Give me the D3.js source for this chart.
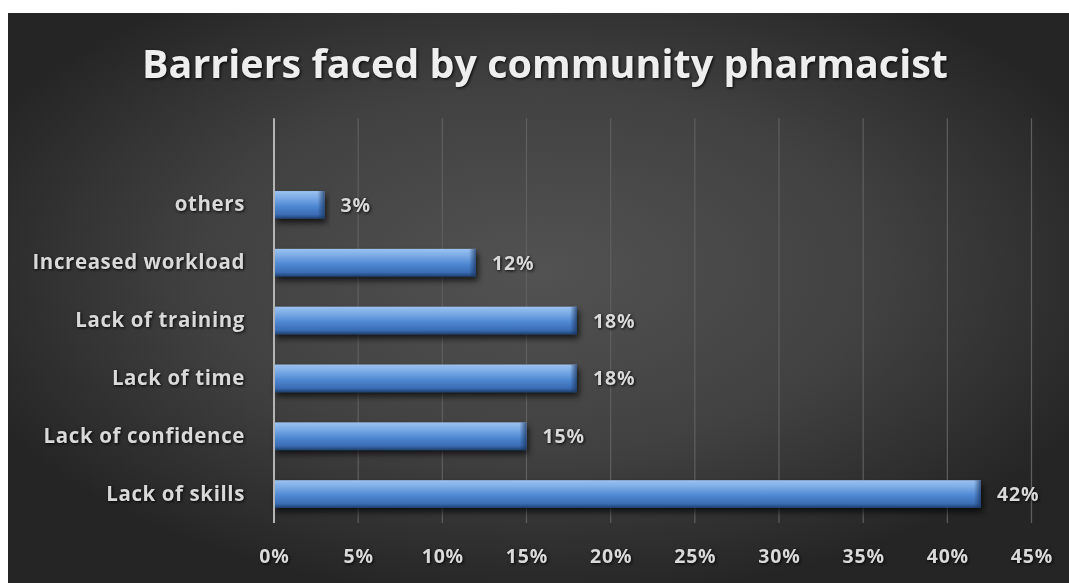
<!DOCTYPE html>
<html>
<head>
<meta charset="utf-8">
<script src="https://cdn.jsdelivr.net/npm/d3@7"></script>
<style>
  body { margin: 0; background: #fff; }
  svg text { font-family: "Open Sans", "DejaVu Sans", sans-serif; font-weight: bold; }
  .shadowed { filter: drop-shadow(1px 1px 1.5px rgba(0,0,0,0.9)); }
</style>
</head>
<body>
<div id="chart-area"></div>
<script>
const title = "Barriers faced by community pharmacist";
const categories = ["others", "Increased workload", "Lack of training", "Lack of time", "Lack of confidence", "Lack of skills"];
const values = [3, 12, 18, 18, 15, 42];
const ticks = [0, 5, 10, 15, 20, 25, 30, 35, 40, 45];

const chartSize = { width: 1069, height: 583 };
const frame = { left: 8, top: 13 };
const margin = { left: 274, right: 38, top: 176, bottom: 60 };
const plotW = chartSize.width - margin.left - margin.right;
const plotH = chartSize.height - margin.top - margin.bottom;

const svg = d3.select("#chart-area")
  .append("svg")
  .attr("width", chartSize.width)
  .attr("height", chartSize.height)
  .style("display", "block");

const defs = svg.append("defs");

const bg = defs.append("radialGradient")
  .attr("id", "bg")
  .attr("cx", "50%").attr("cy", "45%").attr("r", "58%");
bg.append("stop").attr("offset", "0%").attr("stop-color", "#525252");
bg.append("stop").attr("offset", "55%").attr("stop-color", "#414141");
bg.append("stop").attr("offset", "100%").attr("stop-color", "#252525");

const barGrad = defs.append("linearGradient")
  .attr("id", "barGrad")
  .attr("x1", 0).attr("y1", 0).attr("x2", 0).attr("y2", 1);
barGrad.append("stop").attr("offset", "0%").attr("stop-color", "#9cc2f0");
barGrad.append("stop").attr("offset", "25%").attr("stop-color", "#7aaae6");
barGrad.append("stop").attr("offset", "55%").attr("stop-color", "#4f88d2");
barGrad.append("stop").attr("offset", "85%").attr("stop-color", "#3a6cb4");
barGrad.append("stop").attr("offset", "100%").attr("stop-color", "#1f3f6e");

const endGrad = defs.append("linearGradient")
  .attr("id", "endGrad")
  .attr("x1", 0).attr("y1", 0).attr("x2", 1).attr("y2", 0);
endGrad.append("stop").attr("offset", "0%").attr("stop-color", "#1a3560").attr("stop-opacity", 0);
endGrad.append("stop").attr("offset", "100%").attr("stop-color", "#1a3560").attr("stop-opacity", 0.75);

const shadow = defs.append("filter").attr("id", "barShadow")
  .attr("x", "-5%").attr("y", "-30%").attr("width", "115%").attr("height", "180%");
shadow.append("feDropShadow")
  .attr("dx", 2).attr("dy", 4).attr("stdDeviation", 3)
  .attr("flood-color", "#000").attr("flood-opacity", 0.7);

svg.append("rect")
  .attr("x", frame.left).attr("y", frame.top)
  .attr("width", chartSize.width - frame.left)
  .attr("height", chartSize.height - frame.top)
  .attr("fill", "url(#bg)");

svg.append("text")
  .attr("class", "shadowed")
  .attr("x", 545)
  .attr("y", 78)
  .attr("text-anchor", "middle")
  .attr("textLength", 806)
  .attr("lengthAdjust", "spacingAndGlyphs")
  .attr("font-size", 39)
  .attr("font-weight", 600)
  .attr("fill", "#eeeeee")
  .text(title);

const g = svg.append("g")
  .attr("transform", `translate(${margin.left},${margin.top})`);

const x = d3.scaleLinear().domain([0, 45]).range([0, plotW + 0.5]);
const y = d3.scaleBand().domain(categories).range([0, plotH]).paddingInner(0.52).paddingOuter(0.26);
const gridTop = -y.step();

// gridlines
g.append("g")
  .selectAll("line")
  .data(ticks.filter(t => t > 0))
  .join("line")
  .attr("x1", d => x(d)).attr("x2", d => x(d))
  .attr("y1", gridTop).attr("y2", plotH)
  .attr("stroke", "#5f5f5f")
  .attr("stroke-width", 1.2);

// bars
const bars = g.append("g").selectAll("g").data(categories).join("g");
bars.append("rect")
  .attr("x", x(0))
  .attr("y", d => y(d))
  .attr("width", (d, i) => x(values[i]) - x(0))
  .attr("height", y.bandwidth())
  .attr("fill", "url(#barGrad)")
  .attr("filter", "url(#barShadow)");
bars.append("rect")
  .attr("x", (d, i) => x(values[i]) - 7)
  .attr("y", d => y(d))
  .attr("width", 7)
  .attr("height", y.bandwidth())
  .attr("fill", "url(#endGrad)");

// zero axis line
g.append("line")
  .attr("x1", x(0)).attr("x2", x(0))
  .attr("y1", gridTop).attr("y2", plotH)
  .attr("stroke", "#b4b4b4")
  .attr("stroke-width", 2);

// value labels
g.append("g")
  .selectAll("text")
  .data(categories)
  .join("text")
  .attr("class", "shadowed")
  .attr("x", (d, i) => x(values[i]) + 16)
  .attr("y", d => y(d) + y.bandwidth() / 2)
  .attr("dy", "0.36em")
  .attr("font-size", 19.5)
  .attr("letter-spacing", 0.8)
  .attr("fill", "#d9d9d9")
  .text((d, i) => `${values[i]}%`);

// category axis
const yAxis = d3.axisLeft(y).tickSize(0).tickPadding(29);
const yG = g.append("g").call(yAxis);
yG.select(".domain").remove();
yG.selectAll("text")
  .attr("class", "shadowed")
  .attr("font-size", 20.5)
  .attr("letter-spacing", 0.6)
  .attr("fill", "#d9d9d9");

// value axis
const xAxis = d3.axisBottom(x).tickValues(ticks).tickFormat(d => `${d}%`).tickSize(0).tickPadding(26);
const xG = g.append("g").attr("transform", `translate(0,${plotH})`).call(xAxis);
xG.select(".domain").remove();
xG.selectAll("text")
  .attr("class", "shadowed")
  .attr("font-size", 19.5)
  .attr("letter-spacing", 0.8)
  .attr("fill", "#d9d9d9");
</script>
</body>
</html>
